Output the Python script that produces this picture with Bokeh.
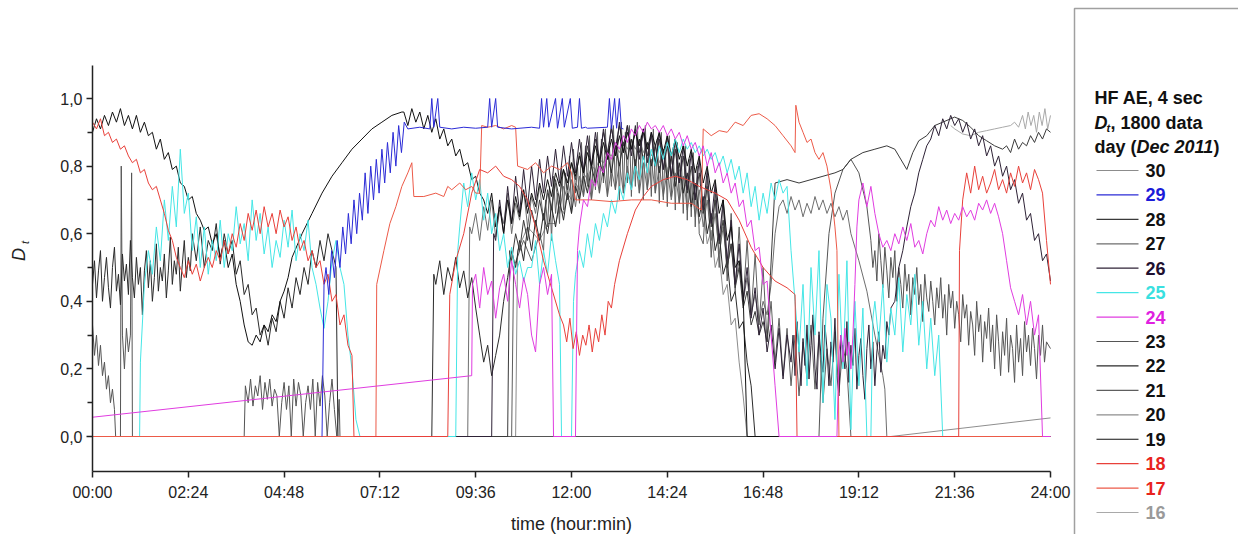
import math
from bokeh.plotting import figure
from bokeh.models import FixedTicker, Range1d, ColumnDataSource
from bokeh.embed import file_html
from bokeh.resources import INLINE
from bokeh.core.properties import value

FONT = "Liberation Sans"

# ---------------- tick labels ----------------
x_tick_minutes = [0, 144, 288, 432, 576, 720, 864, 1008, 1152, 1296, 1440]
x_tick_labels = ["00:00", "02:24", "04:48", "07:12", "09:36", "12:00", "14:24", "16:48", "19:12", "21:36", "24:00"]
y_ticks = [0.0, 0.2, 0.4, 0.6, 0.8, 1.0]
y_tick_labels = ["0,0", "0,2", "0,4", "0,6", "0,8", "1,0"]
y_minor = [0.1, 0.3, 0.5, 0.7, 0.9]

# ---------------- legend ----------------
days = ["30", "29", "28", "27", "26", "25", "24", "23", "22", "21", "20", "19", "18", "17", "16"]
line_colors = ["#8c8c8c", "#2b2bd6", "#3a3a3a", "#6e6e6e", "#2e2236", "#45e6e6", "#e03ce0",
               "#555555", "#2a2a2a", "#5e5e5e", "#8e8e8e", "#111111", "#e8403a", "#ec5a48", "#a9a9a9"]
text_colors = ["#111111", "#1b1bd9", "#111111", "#111111", "#1f1030", "#39e0e0", "#e020e0",
               "#111111", "#111111", "#111111", "#111111", "#111111", "#e8231d", "#e8231d", "#9a9a9a"]


def grid(t0, dt, vals):
    """regular 'dt'-hour sampling starting at t0 (hours) with hand-read values"""
    return [(round(t0 + i * dt, 4), v) for i, v in enumerate(vals)]


# ---------------- series (time in hours, D_t) ----------------
d19 = (grid(0.0, 0.1, [0.90, 0.94, 0.91, 0.95, 0.92, 0.96, 0.93, 0.97, 0.92, 0.95, 0.91, 0.95, 0.90, 0.93, 0.89])
       + grid(1.5, 0.1, [0.90, 0.85, 0.88, 0.82, 0.84, 0.79, 0.80, 0.75, 0.74, 0.70, 0.71, 0.66, 0.64, 0.61, 0.62])
       + grid(3.0, 0.1, [0.57, 0.60, 0.53, 0.58, 0.50, 0.54, 0.45, 0.40, 0.33, 0.28, 0.27, 0.30, 0.28, 0.33, 0.31,
                         0.36, 0.34, 0.40, 0.43, 0.47])
       + grid(5.0, 0.25, [0.53, 0.60, 0.66, 0.72, 0.77, 0.81, 0.85, 0.88, 0.91, 0.93, 0.95, 0.96])
       + grid(7.8, 0.1, [0.96, 0.92, 0.97, 0.93, 0.96, 0.91, 0.95, 0.90, 0.94, 0.88, 0.91, 0.86, 0.88, 0.83, 0.85,
                         0.80, 0.81, 0.76, 0.77, 0.72])
       + grid(9.8, 0.1, [0.70, 0.66, 0.72, 0.62, 0.68, 0.60, 0.70, 0.63, 0.71, 0.65, 0.73, 0.66, 0.72, 0.68, 0.75,
                         0.70, 0.76, 0.71, 0.78, 0.74])
       + grid(11.8, 0.1, [0.79, 0.75, 0.81, 0.77, 0.83, 0.78, 0.84, 0.80, 0.86, 0.81, 0.87, 0.82, 0.88, 0.83, 0.89,
                          0.84, 0.90, 0.85, 0.90, 0.86, 0.91, 0.85, 0.90, 0.86, 0.90, 0.84, 0.89, 0.83, 0.88, 0.82])
       + grid(14.8, 0.1, [0.86, 0.80, 0.85, 0.78, 0.83, 0.75, 0.80, 0.72, 0.76, 0.66, 0.70, 0.58, 0.62, 0.50, 0.52,
                          0.42, 0.0])
       + [(24.0, 0.0)])

d22 = (grid(0.0, 0.05, [0.45, 0.52, 0.41, 0.49, 0.55, 0.40, 0.47, 0.53, 0.44, 0.38, 0.50, 0.56, 0.43, 0.48, 0.39,
                        0.54, 0.46, 0.51, 0.42, 0.58, 0.47, 0.41, 0.53, 0.45, 0.50, 0.36, 0.49, 0.55, 0.44, 0.52,
                        0.40, 0.47, 0.57, 0.43, 0.50, 0.46, 0.54, 0.41, 0.49, 0.59, 0.45, 0.52, 0.48, 0.56, 0.43,
                        0.51, 0.58, 0.47, 0.53, 0.49, 0.60])
       + grid(2.6, 0.1, [0.52, 0.62, 0.50, 0.58, 0.55, 0.63, 0.51, 0.60, 0.54, 0.58, 0.48, 0.52, 0.42, 0.45, 0.36,
                         0.38, 0.30, 0.33, 0.27, 0.35])
       + grid(4.6, 0.1, [0.31, 0.40, 0.35, 0.44, 0.38, 0.47, 0.42, 0.50, 0.45, 0.55, 0.50, 0.58, 0.52, 0.60, 0.55, 0.50])
       + [(6.15, 0.0), (8.5, 0.0), (8.55, 0.48)]
       + grid(8.6, 0.1, [0.45, 0.52, 0.42, 0.50, 0.46, 0.53, 0.44, 0.49, 0.41, 0.47, 0.38, 0.30, 0.22, 0.27, 0.18,
                         0.24, 0.30, 0.40, 0.47, 0.55])
       + grid(10.6, 0.1, [0.50, 0.58, 0.52, 0.62, 0.55, 0.64, 0.58, 0.66, 0.60, 0.68, 0.62, 0.70, 0.64, 0.72, 0.66,
                          0.74, 0.70, 0.77, 0.72, 0.80])
       + grid(12.6, 0.1, [0.75, 0.82, 0.77, 0.84, 0.78, 0.86, 0.80, 0.87, 0.82, 0.88, 0.80, 0.88, 0.82, 0.87, 0.80,
                          0.86, 0.78, 0.85, 0.76, 0.83])
       + grid(14.6, 0.1, [0.74, 0.81, 0.72, 0.78, 0.68, 0.75, 0.65, 0.71, 0.60, 0.66, 0.55, 0.60, 0.48, 0.52, 0.40,
                          0.43, 0.32, 0.34, 0.22, 0.15, 0.0])
       + [(24.0, 0.0)])

d23 = ([(0.0, 0.33), (0.05, 0.24), (0.1, 0.30), (0.15, 0.21), (0.2, 0.27), (0.25, 0.18), (0.3, 0.22), (0.35, 0.14),
        (0.4, 0.18), (0.45, 0.10), (0.5, 0.14), (0.55, 0.08), (0.58, 0.0), (0.7, 0.0), (0.72, 0.80), (0.75, 0.30),
        (0.8, 0.20), (0.85, 0.32), (0.9, 0.25), (0.95, 0.30), (0.98, 0.78), (1.0, 0.0), (3.8, 0.0), (3.83, 0.15)]
       + grid(3.9, 0.06, [0.10, 0.17, 0.09, 0.15, 0.12, 0.18, 0.08, 0.16, 0.11, 0.17, 0.09, 0.14, 0.12, 0.0, 0.10,
                          0.16, 0.08, 0.15, 0.0, 0.17, 0.09, 0.16, 0.12, 0.0, 0.10, 0.15, 0.08, 0.17, 0.0, 0.16,
                          0.09, 0.18, 0.12, 0.0, 0.10, 0.17, 0.08, 0.0, 0.11])
       + [(6.2, 0.0), (18.2, 0.0), (18.3, 0.35), (18.45, 0.6), (18.6, 0.72), (18.8, 0.79), (19.0, 0.82),
          (19.2, 0.78), (19.4, 0.68)]
       + grid(19.5, 0.05, [0.58, 0.50, 0.55, 0.46, 0.60, 0.52, 0.44, 0.56, 0.49, 0.41, 0.53, 0.47, 0.55, 0.40, 0.50,
                           0.45, 0.38, 0.51, 0.43, 0.48, 0.36, 0.47, 0.42, 0.50, 0.39, 0.45, 0.34, 0.48, 0.41, 0.37,
                           0.46, 0.40, 0.33, 0.44, 0.38, 0.47, 0.35, 0.42, 0.30, 0.45, 0.38, 0.43, 0.32, 0.40, 0.36,
                           0.28, 0.42, 0.35, 0.39, 0.27, 0.37, 0.33, 0.24, 0.40, 0.31, 0.36, 0.22, 0.34, 0.29, 0.38,
                           0.25, 0.33, 0.20, 0.36, 0.28, 0.18, 0.31, 0.24, 0.35, 0.19, 0.30, 0.26, 0.16, 0.33, 0.22,
                           0.29, 0.18, 0.34, 0.25, 0.30, 0.21, 0.32, 0.26, 0.17, 0.30, 0.24, 0.33, 0.22, 0.28])
       + [(24.0, 0.26)])

d28 = ([(0.0, 0.0), (10.4, 0.0), (10.45, 0.55)]
       + grid(10.5, 0.1, [0.52, 0.60, 0.55, 0.64, 0.58, 0.67, 0.62, 0.70, 0.64, 0.73, 0.67, 0.76, 0.70, 0.79, 0.73,
                          0.81, 0.76, 0.84, 0.78, 0.86, 0.80, 0.88, 0.82, 0.90, 0.84, 0.91, 0.85, 0.92, 0.86, 0.92,
                          0.85, 0.91, 0.84, 0.90, 0.83, 0.89, 0.81, 0.88, 0.79, 0.86])
       + grid(14.5, 0.1, [0.77, 0.85, 0.75, 0.83, 0.72, 0.80, 0.70, 0.78, 0.66, 0.74, 0.62, 0.70, 0.57, 0.64, 0.50,
                          0.57, 0.44, 0.50, 0.38, 0.43, 0.33, 0.37, 0.30, 0.34, 0.28])
       + [(17.1, 0.75), (17.4, 0.76), (17.7, 0.75), (18.0, 0.76), (18.3, 0.77), (18.6, 0.78), (18.8, 0.79),
          (19.0, 0.82), (19.3, 0.84), (19.6, 0.85), (19.9, 0.86), (20.1, 0.85), (20.2, 0.83), (20.4, 0.79),
          (20.55, 0.84), (20.7, 0.875), (20.9, 0.89), (21.1, 0.92), (21.3, 0.93), (21.6, 0.945), (21.8, 0.935),
          (22.0, 0.915), (22.2, 0.89), (22.4, 0.875), (22.6, 0.86), (22.8, 0.85)]
       + grid(22.9, 0.1, [0.86, 0.84, 0.88, 0.85, 0.87, 0.86, 0.89, 0.87, 0.90, 0.88, 0.91, 0.90]))

d26 = ([(0.0, 0.0), (10.0, 0.0), (10.05, 0.6)]
       + grid(10.1, 0.1, [0.58, 0.70, 0.60, 0.74, 0.63, 0.77, 0.66, 0.79, 0.68, 0.80, 0.70, 0.82, 0.72, 0.83, 0.74,
                          0.85, 0.75, 0.86, 0.77, 0.87, 0.78, 0.88, 0.79, 0.89, 0.80, 0.90, 0.81, 0.91, 0.82, 0.92,
                          0.83, 0.93, 0.84, 0.92, 0.83, 0.92, 0.82, 0.91, 0.81, 0.90])
       + grid(14.1, 0.1, [0.80, 0.90, 0.79, 0.89, 0.77, 0.88, 0.75, 0.86, 0.73, 0.84, 0.70, 0.82, 0.67, 0.79, 0.63,
                          0.75, 0.58, 0.70, 0.52, 0.64, 0.45, 0.57, 0.40, 0.50, 0.35, 0.44, 0.30, 0.38, 0.25, 0.33,
                          0.20, 0.32, 0.17, 0.30])
       + grid(17.5, 0.05, [0.22, 0.30, 0.18, 0.34, 0.25, 0.15, 0.29, 0.21, 0.33, 0.17, 0.27, 0.36, 0.20, 0.14, 0.31,
                           0.24, 0.19, 0.33, 0.26, 0.15, 0.28, 0.22, 0.35, 0.18, 0.12, 0.30, 0.25, 0.20, 0.34, 0.16,
                           0.27, 0.21, 0.32, 0.14, 0.24, 0.29, 0.18, 0.11, 0.26, 0.33, 0.20, 0.28, 0.15, 0.25, 0.31,
                           0.19, 0.27, 0.23, 0.34, 0.30, 0.38])
       + grid(20.1, 0.1, [0.40, 0.50, 0.55, 0.62, 0.68, 0.72, 0.78, 0.82, 0.86, 0.88, 0.92, 0.89, 0.94, 0.91, 0.95,
                          0.92, 0.94, 0.90, 0.93, 0.88, 0.91, 0.86, 0.89, 0.83, 0.86, 0.80, 0.83, 0.77, 0.80, 0.73,
                          0.76, 0.69, 0.72, 0.64, 0.66, 0.58, 0.60, 0.52, 0.54, 0.46]))

d27 = ([(0.0, 0.0), (9.4, 0.0), (9.45, 0.62)]
       + grid(9.5, 0.1, [0.60, 0.66, 0.58, 0.68, 0.61, 0.70, 0.59, 0.67, 0.63, 0.72, 0.60, 0.69, 0.64, 0.73, 0.62,
                         0.71, 0.66, 0.74, 0.64, 0.72, 0.68, 0.75, 0.66, 0.74, 0.70, 0.76, 0.68, 0.77, 0.71, 0.78,
                         0.70, 0.79, 0.72, 0.80, 0.71, 0.79, 0.73, 0.81, 0.72, 0.80])
       + grid(13.5, 0.1, [0.73, 0.82, 0.72, 0.81, 0.73, 0.82, 0.72, 0.80, 0.71, 0.79, 0.70, 0.78, 0.69, 0.77, 0.67,
                          0.75, 0.65, 0.73, 0.62, 0.70, 0.58, 0.66, 0.54, 0.62, 0.50, 0.57, 0.45, 0.52, 0.40, 0.47,
                          0.36, 0.42, 0.34, 0.40, 0.36, 0.45])
       + [(17.1, 0.60), (17.2, 0.68)]
       + grid(17.3, 0.1, [0.70, 0.66, 0.71, 0.67, 0.70, 0.65, 0.69, 0.66, 0.71, 0.67, 0.70, 0.66, 0.69, 0.65, 0.68,
                          0.64, 0.67])
       + [(19.0, 0.60), (19.2, 0.52), (19.4, 0.43), (19.6, 0.30), (19.8, 0.18), (19.85, 0.14), (19.9, 0.0),
          (24.0, 0.0)])

d21 = ([(0.0, 0.0), (10.5, 0.0), (10.55, 0.5), (10.8, 0.58), (11.0, 0.52), (11.2, 0.60)]
       + grid(11.3, 0.05, [0.55, 0.70, 0.62, 0.74, 0.58, 0.77, 0.66, 0.72, 0.63, 0.80, 0.67, 0.78, 0.70, 0.83, 0.66,
                           0.85, 0.72, 0.80, 0.69, 0.87, 0.71, 0.86, 0.74, 0.89, 0.70, 0.84, 0.73, 0.90, 0.72, 0.88,
                           0.75, 0.91, 0.71, 0.86, 0.74, 0.92, 0.73, 0.89, 0.70, 0.93, 0.72, 0.90, 0.75, 0.92, 0.71,
                           0.88, 0.74, 0.93, 0.72, 0.89, 0.70, 0.92, 0.73, 0.87, 0.71, 0.91, 0.72, 0.88, 0.69, 0.90,
                           0.70, 0.86, 0.68, 0.89, 0.71, 0.85, 0.67, 0.87, 0.69, 0.83, 0.66, 0.86, 0.64, 0.82, 0.65,
                           0.84, 0.62, 0.80, 0.60])
       + grid(15.3, 0.1, [0.57, 0.77, 0.53, 0.73, 0.50, 0.70, 0.46, 0.66, 0.43, 0.62, 0.40, 0.58, 0.36, 0.54, 0.33,
                          0.50, 0.28, 0.40, 0.22, 0.35, 0.18, 0.32, 0.15, 0.30, 0.12, 0.28, 0.17, 0.33, 0.14, 0.30,
                          0.10, 0.26, 0.15, 0.31, 0.13, 0.27])
       + [(18.9, 0.20), (19.0, 0.0), (24.0, 0.0)])

d30 = ([(0.0, 0.0), (10.6, 0.0), (10.65, 0.55), (10.9, 0.62), (11.2, 0.58), (11.4, 0.63)]
       + grid(11.6, 0.1, [0.63, 0.68, 0.66, 0.72, 0.70, 0.75, 0.73, 0.78, 0.76, 0.80, 0.79, 0.82, 0.81, 0.84, 0.83,
                          0.86, 0.84, 0.87, 0.85, 0.88, 0.85, 0.88, 0.84, 0.87, 0.83, 0.86, 0.81, 0.84, 0.79, 0.82,
                          0.76, 0.79, 0.72, 0.76, 0.68, 0.72, 0.63, 0.67, 0.57, 0.61, 0.50, 0.54, 0.42, 0.45, 0.33,
                          0.35, 0.22, 0.12, 0.0])
       + [(24.0, 0.0)])

d20 = [(0.0, 0.0), (20.0, 0.0), (24.0, 0.055)]

d16 = ([(21.5, 0.92), (21.6, 0.91), (21.8, 0.895), (22.0, 0.89), (22.2, 0.90), (22.4, 0.905), (22.6, 0.91),
        (22.8, 0.915), (23.0, 0.92), (23.1, 0.93), (23.2, 0.915)]
       + grid(23.3, 0.07, [0.95, 0.91, 0.96, 0.92, 0.95, 0.90, 0.96, 0.92, 0.97, 0.91, 0.95]))

d29 = ([(5.75, 0.0), (5.8, 0.45)]
       + grid(5.85, 0.07, [0.50, 0.42, 0.55, 0.47, 0.58, 0.50, 0.62, 0.54, 0.66, 0.57, 0.70, 0.60, 0.72, 0.64, 0.78,
                           0.66, 0.80, 0.70, 0.82, 0.72, 0.85, 0.75, 0.87, 0.78, 0.90, 0.80, 0.92, 0.84, 0.93])
       + [(7.9, 0.91), (8.2, 0.915), (8.45, 0.91), (8.5, 1.0), (8.55, 0.915), (8.65, 1.0), (8.7, 0.915),
          (9.0, 0.91), (9.3, 0.915), (9.6, 0.912), (9.9, 0.915), (9.95, 1.0), (10.0, 0.915), (10.1, 1.0),
          (10.15, 0.915), (10.5, 0.91), (11.0, 0.915), (11.2, 0.912), (11.25, 1.0), (11.3, 0.915), (11.38, 1.0),
          (11.43, 0.915), (11.6, 1.0), (11.65, 0.912), (11.77, 1.0), (11.82, 0.915), (11.97, 1.0), (12.02, 0.912),
          (12.15, 0.915), (12.2, 1.0), (12.25, 0.912), (12.35, 0.915), (12.4, 0.912), (12.9, 0.915), (12.95, 1.0),
          (13.0, 0.91), (13.08, 1.0), (13.13, 0.912), (13.2, 1.0), (13.25, 0.912), (13.3, 0.91)])

d25 = ([(0.0, 0.0), (1.18, 0.0)]
       + grid(1.2, 0.1, [0.22, 0.45, 0.55, 0.48, 0.62, 0.52, 0.70, 0.58, 0.74, 0.62, 0.85, 0.66, 0.72, 0.55, 0.65,
                         0.50, 0.62, 0.48, 0.58, 0.52, 0.64, 0.50, 0.60, 0.55, 0.68, 0.57, 0.63, 0.52, 0.70, 0.58,
                         0.66, 0.54, 0.62, 0.50, 0.58, 0.53, 0.64, 0.56, 0.67, 0.52])
       + grid(5.2, 0.1, [0.60, 0.55, 0.64, 0.50, 0.45, 0.38, 0.32, 0.40, 0.52, 0.58, 0.50, 0.45, 0.30, 0.20, 0.05, 0.0])
       + [(9.1, 0.0), (9.15, 0.55)]
       + grid(9.2, 0.1, [0.62, 0.75, 0.68, 0.78, 0.70, 0.76, 0.64, 0.72, 0.60, 0.66, 0.55, 0.60, 0.50, 0.56, 0.48,
                         0.52, 0.46, 0.50])
       + [(11.0, 0.50), (11.1, 0.58), (11.2, 0.45), (11.3, 0.55), (11.4, 0.48), (11.5, 0.60), (11.6, 0.52),
          (11.7, 0.45), (11.75, 0.0), (12.0, 0.0), (12.05, 0.40)]
       + grid(12.1, 0.1, [0.48, 0.55, 0.50, 0.60, 0.53, 0.63, 0.58, 0.66, 0.62, 0.70, 0.66, 0.74, 0.70, 0.78, 0.73,
                          0.80, 0.76, 0.83, 0.78, 0.85, 0.80, 0.86, 0.82, 0.87, 0.83, 0.88, 0.84, 0.88, 0.85, 0.87,
                          0.84, 0.86, 0.83, 0.85, 0.82, 0.84, 0.80, 0.83, 0.78, 0.82])
       + grid(16.1, 0.1, [0.76, 0.80, 0.72, 0.78, 0.68, 0.74, 0.64, 0.72, 0.66, 0.75, 0.70, 0.76, 0.72, 0.74, 0.55,
                          0.40, 0.25, 0.45, 0.15, 0.50, 0.30, 0.55, 0.10, 0.45, 0.35, 0.05, 0.48, 0.20, 0.52, 0.02,
                          0.40, 0.15, 0.38, 0.0])
       + [(19.5, 0.0), (19.55, 0.35)]
       + grid(19.6, 0.1, [0.40, 0.28, 0.45, 0.22, 0.38, 0.30, 0.47, 0.25, 0.42, 0.33, 0.48, 0.27, 0.40, 0.20, 0.35,
                          0.18, 0.30, 0.0])
       + [(24.0, 0.0)])

d24 = ([(0.0, 0.057), (9.5, 0.18), (9.52, 0.45)]
       + grid(9.6, 0.1, [0.48, 0.38, 0.50, 0.42, 0.46, 0.35, 0.44, 0.48, 0.40, 0.52, 0.45, 0.38, 0.47, 0.42, 0.30,
                         0.25, 0.45, 0.50, 0.42, 0.48])
       + [(11.55, 0.0), (12.1, 0.0), (12.15, 0.55)]
       + grid(12.2, 0.1, [0.62, 0.70, 0.68, 0.76, 0.74, 0.80, 0.78, 0.84, 0.82, 0.87, 0.85, 0.89, 0.87, 0.91, 0.89,
                          0.92, 0.90, 0.93, 0.91, 0.92, 0.90, 0.92, 0.89, 0.91, 0.88, 0.90, 0.86, 0.89, 0.85, 0.87,
                          0.83, 0.86, 0.80, 0.84, 0.78, 0.81, 0.75, 0.78, 0.72, 0.75])
       + grid(16.2, 0.1, [0.68, 0.70, 0.62, 0.64, 0.55, 0.56, 0.45, 0.46, 0.30, 0.15, 0.0])
       + [(18.65, 0.0), (18.7, 0.25), (18.75, 0.30), (18.8, 0.22), (18.85, 0.32), (18.9, 0.24), (18.95, 0.28),
          (19.0, 0.20), (19.05, 0.30), (19.1, 0.45), (19.15, 0.62)]
       + grid(19.2, 0.1, [0.70, 0.75, 0.68, 0.74, 0.66, 0.60, 0.56, 0.58, 0.55, 0.60, 0.57, 0.62, 0.58, 0.63, 0.56,
                          0.58, 0.54, 0.60, 0.64, 0.62, 0.68, 0.64, 0.67, 0.63, 0.66, 0.64, 0.68, 0.65, 0.67, 0.64,
                          0.69, 0.67, 0.70, 0.66, 0.69, 0.65, 0.60, 0.52, 0.44, 0.40, 0.36, 0.42, 0.33, 0.40, 0.30,
                          0.36, 0.0])
       + [(24.0, 0.0)])

d18 = (grid(0.0, 0.1, [0.93, 0.91, 0.94, 0.89, 0.90, 0.87, 0.88, 0.85, 0.86, 0.83, 0.81, 0.82, 0.78, 0.79, 0.75,
                       0.73, 0.74, 0.70, 0.66, 0.61, 0.58, 0.53, 0.50, 0.47, 0.52, 0.48, 0.51, 0.46, 0.50, 0.53])
       + grid(3.0, 0.1, [0.50, 0.55, 0.52, 0.58, 0.54, 0.60, 0.56, 0.63, 0.58, 0.66, 0.61, 0.67, 0.60, 0.68, 0.62,
                         0.66, 0.60, 0.67, 0.62, 0.65, 0.58, 0.62, 0.55, 0.58, 0.52, 0.55, 0.50, 0.52, 0.45, 0.48,
                         0.40, 0.42, 0.33, 0.36, 0.27, 0.24])
       + [(6.55, 0.0), (8.9, 0.0), (8.95, 0.42), (9.1, 0.52), (9.3, 0.60), (9.5, 0.72), (9.7, 0.79), (9.9, 0.78),
          (10.1, 0.80), (10.3, 0.77), (10.5, 0.76), (10.7, 0.74), (10.9, 0.70), (11.1, 0.62), (11.3, 0.52),
          (11.5, 0.44), (11.7, 0.36)]
       + grid(11.8, 0.08, [0.33, 0.28, 0.35, 0.26, 0.31, 0.24, 0.30, 0.27, 0.33, 0.25, 0.32, 0.28, 0.36, 0.30, 0.40,
                           0.38, 0.45])
       + [(13.2, 0.52), (13.4, 0.60), (13.6, 0.67), (13.8, 0.71), (14.0, 0.74), (14.3, 0.76), (14.6, 0.77),
          (14.9, 0.76), (15.2, 0.74), (15.6, 0.72), (15.9, 0.70), (16.2, 0.64), (16.5, 0.56), (16.8, 0.50),
          (17.1, 0.46), (17.4, 0.44), (17.6, 0.42), (17.65, 0.0), (21.7, 0.0), (21.72, 0.55), (21.8, 0.70)]
       + grid(21.9, 0.1, [0.78, 0.72, 0.80, 0.73, 0.77, 0.72, 0.75, 0.79, 0.73, 0.76, 0.72, 0.78, 0.74, 0.80, 0.75,
                          0.78, 0.73, 0.79, 0.76])
       + [(23.8, 0.72), (23.9, 0.58), (24.0, 0.45)])

d17 = [(0.0, 0.0), (7.1, 0.0), (7.12, 0.45), (7.3, 0.55), (7.45, 0.63), (7.6, 0.68), (7.75, 0.74), (7.9, 0.78),
       (8.0, 0.81), (8.05, 0.71), (8.3, 0.71), (8.6, 0.72), (8.8, 0.71), (8.9, 0.74), (9.0, 0.73), (9.2, 0.75),
       (9.35, 0.73), (9.5, 0.74), (9.6, 0.72), (9.7, 0.72), (9.75, 0.92), (9.9, 0.915), (10.1, 0.92), (10.3, 0.91),
       (10.5, 0.92), (10.6, 0.915), (10.65, 0.80), (10.9, 0.79), (11.1, 0.81), (11.3, 0.78), (11.5, 0.80),
       (11.7, 0.79), (11.9, 0.81), (12.0, 0.78), (12.1, 0.70), (12.5, 0.70), (13.0, 0.695), (13.5, 0.70),
       (14.0, 0.70), (14.5, 0.69), (15.0, 0.69), (15.25, 0.67), (15.3, 0.91), (15.5, 0.89), (15.7, 0.905),
       (15.9, 0.90), (16.1, 0.93), (16.3, 0.92), (16.5, 0.95), (16.7, 0.955), (16.9, 0.94), (17.1, 0.92),
       (17.3, 0.89), (17.5, 0.86), (17.6, 0.84), (17.62, 0.98), (17.7, 0.93), (17.8, 0.90), (17.9, 0.87),
       (18.0, 0.88), (18.1, 0.84), (18.2, 0.82), (18.3, 0.84), (18.4, 0.80), (18.5, 0.73), (18.6, 0.62),
       (18.65, 0.55), (18.7, 0.0), (24.0, 0.0)]

series = {"30": d30, "29": d29, "28": d28, "27": d27, "26": d26, "25": d25, "24": d24, "23": d23,
          "22": d22, "21": d21, "20": d20, "19": d19, "18": d18, "17": d17, "16": d16}
draw_order = ["20", "16", "30", "27", "21", "23", "22", "28", "26", "19", "25", "17", "18", "24", "29"]

# ---------------- geometry: frame covers the whole canvas, axes are pinned ----------------
W, H = 1238, 534
X0, X1, Y_ZERO, PX_PER_UNIT = 92, 1050, 436, 338.0
Y_BOTTOM, Y_TOP = -0.1036, 1.0976


def px_x(px):
    return (px - X0) * 1440.0 / (X1 - X0)


def px_y(py):
    return (Y_ZERO - py) / PX_PER_UNIT


p = figure(width=W, height=H, x_range=Range1d(px_x(0), px_x(W)), y_range=Range1d(px_y(H), px_y(0)),
           toolbar_location=None, output_backend="svg", min_border=0)
p.outline_line_color = None
p.grid.visible = False
p.background_fill_color = "white"
p.border_fill_color = "white"

color_of = dict(zip(days, line_colors))
for d in draw_order:
    pts = series[d]
    src = ColumnDataSource(dict(t=[a * 60.0 for a, _ in pts], v=[b for _, b in pts]))
    p.line("t", "v", source=src, line_color=color_of[d], line_width=1)

xa = p.xaxis[0]
xa.fixed_location = Y_BOTTOM
xa.bounds = (0, 1440)
xa.ticker = FixedTicker(ticks=x_tick_minutes, minor_ticks=[])
xa.major_label_overrides = dict(zip(x_tick_minutes, x_tick_labels))
ya = p.yaxis[0]
ya.fixed_location = 0
ya.bounds = (Y_BOTTOM, Y_TOP)
ya.ticker = FixedTicker(ticks=y_ticks, minor_ticks=y_minor)
ya.major_label_overrides = dict(zip(y_ticks, y_tick_labels))

for ax in (xa, ya):
    ax.axis_line_width = 1.5
    ax.axis_line_color = "#222222"
    ax.major_tick_line_color = "#222222"
    ax.major_tick_line_width = 1.5
    ax.minor_tick_line_color = "#222222"
    ax.minor_tick_line_width = 1.5
    ax.major_tick_in = 0
    ax.major_tick_out = 6
    ax.minor_tick_in = 0
    ax.minor_tick_out = 5
    ax.major_label_text_font = FONT
    ax.major_label_text_font_size = "16px"
    ax.major_label_text_color = "#222222"
    ax.axis_label_text_font = FONT
    ax.axis_label_text_font_style = "normal"
    ax.axis_label_text_color = "#222222"

xa.major_label_standoff = 6
xa.axis_label = "time (hour:min)"
xa.axis_label_text_font_size = "18px"
xa.axis_label_standoff = 10
ya.major_label_standoff = 4

# y-axis title: italic D with subscript t
p.text(x=[px_x(18)], y=[px_y(254)], text=["D"], angle=math.pi / 2, text_align="center", text_baseline="middle",
       text_font=value(FONT), text_font_size="18px", text_font_style="italic", text_color="#222222")
p.text(x=[px_x(24)], y=[px_y(242)], text=["t"], angle=math.pi / 2, text_align="center", text_baseline="middle",
       text_font=value(FONT), text_font_size="11px", text_font_style="italic", text_color="#222222")

# ---------------- legend ----------------
LX = 1073
p.quad(left=[px_x(LX + 1)], right=[px_x(W + 40)], top=[px_y(8)], bottom=[px_y(H + 40)],
       fill_color=None, line_color="#a0a0a0", line_width=1.5)

title_parts = [
    (21, 97, "HF AE, 4 sec", "bold", "18px"),
    (21, 122, "D", "bold italic", "18px"),
    (33, 127, "t", "bold italic", "11px"),
    (37, 122, ", 1800 data", "bold", "18px"),
    (21, 146, "day (", "bold", "18px"),
    (63, 146, "Dec 2011", "bold italic", "18px"),
    (140, 146, ")", "bold", "18px"),
]
for tx, ty, tt, st, sz in title_parts:
    p.text(x=[px_x(LX + tx)], y=[px_y(ty)], text=[tt], text_color="#111111", text_font=value(FONT),
           text_font_style=st, text_font_size=sz, text_baseline="middle", text_align="left")

item_y = [px_y(170 + i * 24.43) for i in range(len(days))]
p.segment(x0=[px_x(LX + 23)] * len(days), x1=[px_x(LX + 65)] * len(days), y0=item_y, y1=item_y,
          line_color=line_colors, line_width=1.2)
p.text(x=[px_x(LX + 72)] * len(days), y=item_y, text=days, text_color=text_colors, text_font=value(FONT),
       text_font_style="bold", text_font_size="18px", text_baseline="middle", text_align="left")

open("out.html", "w").write(file_html(p, INLINE))
